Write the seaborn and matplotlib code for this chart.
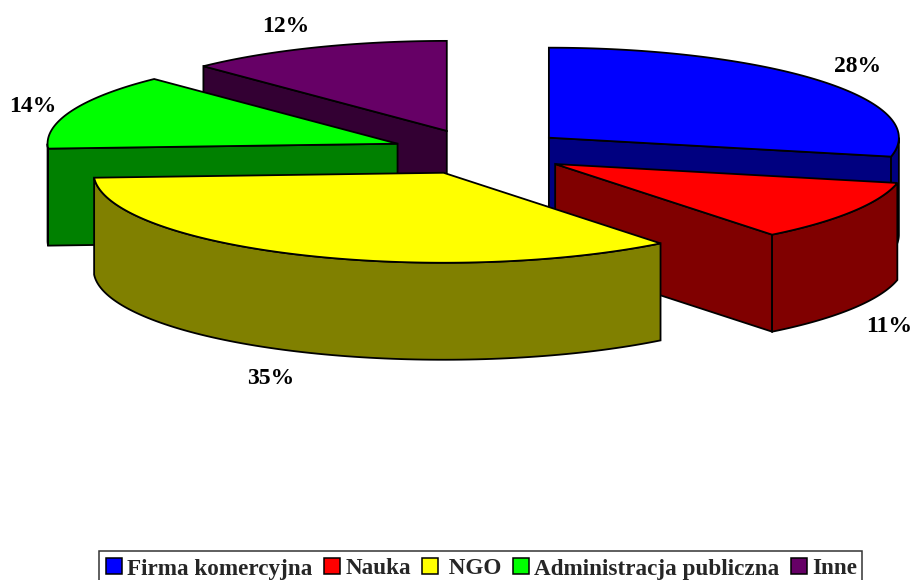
import numpy as np
import matplotlib.pyplot as plt
from matplotlib.patches import Patch, Rectangle
import seaborn as sns

categories = ["Firma komercyjna", "Nauka", " NGO", "Administracja publiczna", "Inne"]
shares = [28.4, 11.0, 34.8, 13.65, 12.25]
labels = ["28%", "11%", "35%", "14%", "12%"]
top_colors = ["#0000FF", "#FF0000", "#FFFF00", "#00FF00", "#660066"]
side_colors = ["#000080", "#800000", "#808000", "#008000", "#330033"]
label_pos = [(858, 66), (889, 326), (270.5, 378), (32.5, 106), (285.5, 27)]
draw_order = [4, 3, 0, 1, 2]

CX, CY = 480, 152
RX, RY = 350, 90
DEPTH = 97
EXPLODE = 0.253
LW = 1.3

sns.set_theme(style="white")
plt.rcParams["font.family"] = ["Liberation Serif", "DejaVu Serif"]
plt.rcParams["font.weight"] = "bold"

palette = sns.color_palette(top_colors)
dark = sns.color_palette(side_colors)

fig, ax = plt.subplots(figsize=(9.15, 5.8), dpi=100)
ax.set_position([0, 0, 1, 1])
ax.set_xlim(0, 915)
ax.set_ylim(580, 0)
ax.axis("off")

edges = np.cumsum([0] + shares) / np.sum(shares) * 2 * np.pi


def arc(x0, y0, t0, t1):
    t = np.linspace(t0, t1, 100)
    return x0 + RX * np.sin(t), y0 - RY * np.cos(t)


def wall(x0, y0, t, color):
    x1, y1 = x0 + RX * np.sin(t), y0 - RY * np.cos(t)
    ax.fill([x0, x1, x1, x0], [y0, y1, y1 + DEPTH, y0 + DEPTH], facecolor=color,
            edgecolor="black", linewidth=LW, joinstyle="miter")


for i in draw_order:
    t0, t1 = edges[i], edges[i + 1]
    mid = (t0 + t1) / 2
    x0 = CX + EXPLODE * RX * np.sin(mid)
    y0 = CY - EXPLODE * RY * np.cos(mid)

    # cut faces turned towards the viewer
    if np.sin(t0) < 1e-9:
        wall(x0, y0, t0, dark[i])
    if np.sin(t1) > 1e-9:
        wall(x0, y0, t1, dark[i])

    # outer rim, only the front half of the ellipse shows
    r0, r1 = max(t0, np.pi / 2), min(t1, 3 * np.pi / 2)
    if r1 > r0:
        xs, ys = arc(x0, y0, r0, r1)
        ax.fill(np.r_[xs, xs[::-1]], np.r_[ys, ys[::-1] + DEPTH], facecolor=dark[i],
                edgecolor="black", linewidth=LW, joinstyle="miter")

    xs, ys = arc(x0, y0, t0, t1)
    ax.fill(np.r_[x0, xs], np.r_[y0, ys], facecolor=palette[i],
            edgecolor="black", linewidth=LW, joinstyle="miter")

for lab, (x, y) in zip(labels, label_pos):
    ax.text(x, y, lab, ha="center", va="center", fontsize=17, fontweight="bold",
            color="black")

# legend frame runs off the bottom of the canvas
ax.add_patch(Rectangle((99, 551), 763, 40, facecolor="white", edgecolor="#333333",
                       linewidth=1.1, clip_on=True))
handles = [Patch(facecolor=c, edgecolor="black", linewidth=1.1) for c in palette]
leg = ax.legend(handles, categories, ncols=5, loc="lower left",
                bbox_to_anchor=(106, 579.5), bbox_transform=ax.transData,
                fontsize=16.7, frameon=False, borderpad=0, borderaxespad=0,
                handlelength=0.7, handleheight=0.68, handletextpad=0.22,
                columnspacing=0.48)

fig.savefig("out.png", dpi=100)
